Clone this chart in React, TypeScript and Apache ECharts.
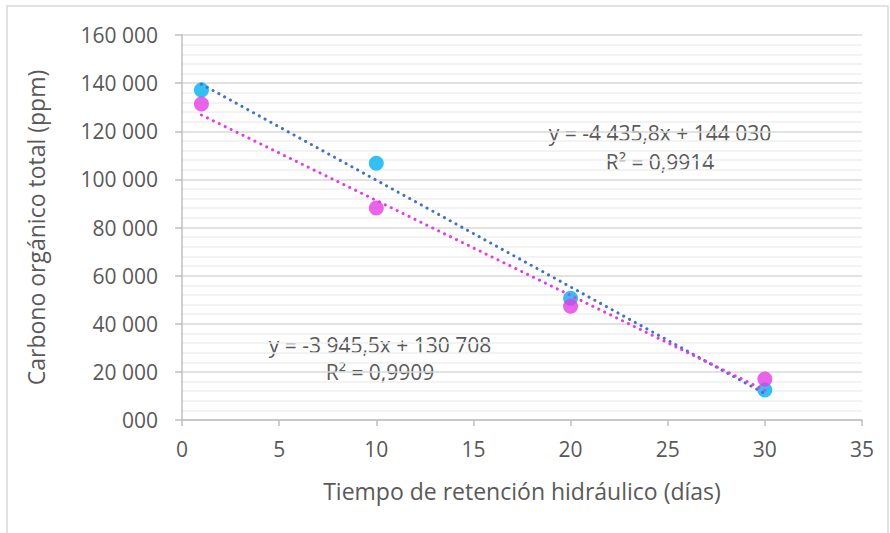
import React, { useEffect, useRef } from "react";
import * as echarts from "echarts";

const xDays = [1, 10, 20, 30];
const blueValues = [137100, 106700, 50600, 12500];
const magentaValues = [131300, 88100, 47300, 17000];
const blueTrend = { slope: -4435.8, intercept: 144030 };
const magentaTrend = { slope: -3945.5, intercept: 130708 };
const trendRange = [1, 30];
const blueEqLines = ["y = -4 435,8x + 144 030", "R² = 0,9914"];
const magentaEqLines = ["y = -3 945,5x + 130 708", "R² = 0,9909"];

const FONT = "Open Sans";
const TXT = "#595959";

function fmtY(v: number): string {
  if (v === 0) return "000";
  const s = Math.round(v).toString();
  return s.replace(/\B(?=(\d{3})+(?!\d))/g, " ");
}

export default function App() {
  const ref = useRef<HTMLDivElement>(null);
  useEffect(() => {
    if (!ref.current) return;
    const chart = echarts.init(ref.current, null, { renderer: "svg" });
    const trendPts = (t: { slope: number; intercept: number }) =>
      trendRange.map((x) => [x, t.slope * x + t.intercept]);
    const eqFont = `21px "${FONT}"`;
    chart.setOption({
      animation: false,
      backgroundColor: "#ffffff",
      grid: { left: 182, right: 28, top: 35, bottom: 113 },
      xAxis: {
        type: "value",
        min: 0,
        max: 35,
        interval: 5,
        name: "Tiempo de retención hidráulico (días)",
        nameLocation: "middle",
        nameGap: 59,
        nameTextStyle: { color: TXT, fontFamily: FONT, fontSize: 23 },
        axisLine: { show: true, lineStyle: { color: "#bfbfbf", width: 1.5 } },
        axisTick: { show: true, length: 6, lineStyle: { color: "#bfbfbf", width: 1.5 } },
        axisLabel: { color: TXT, fontFamily: FONT, fontSize: 21, margin: 18 },
        splitLine: { show: false },
      },
      yAxis: {
        type: "value",
        min: 0,
        max: 160000,
        interval: 20000,
        name: "Carbono orgánico total (ppm)",
        nameLocation: "middle",
        nameGap: 135,
        nameTextStyle: { color: TXT, fontFamily: FONT, fontSize: 23 },
        axisLine: { show: true, lineStyle: { color: "#bfbfbf", width: 1.5 } },
        axisTick: { show: true, length: 7, lineStyle: { color: "#bfbfbf", width: 1.5 } },
        axisLabel: { color: TXT, fontFamily: FONT, fontSize: 21, margin: 24, formatter: fmtY },
        splitLine: { show: true, lineStyle: { color: "#d9d9d9", width: 1.5 } },
        minorTick: { show: false, splitNumber: 5 },
        minorSplitLine: { show: true, lineStyle: { color: "#efefef", width: 1.5 } },
      },
      series: [
        {
          type: "scatter",
          data: xDays.map((x, i) => [x, blueValues[i]]),
          symbolSize: 15,
          itemStyle: { color: "#00b0f0" },
          z: 2,
        },
        {
          type: "scatter",
          data: xDays.map((x, i) => [x, magentaValues[i]]),
          symbolSize: 15,
          itemStyle: { color: "#e43de4" },
          z: 2,
        },
        {
          type: "line",
          data: trendPts(blueTrend),
          showSymbol: false,
          symbol: "none",
          lineStyle: { color: "#4472c4", width: 3, type: [0.1, 6.5], cap: "round" },
          z: 3,
        },
        {
          type: "line",
          data: trendPts(magentaTrend),
          showSymbol: false,
          symbol: "none",
          lineStyle: { color: "#e43de4", width: 3, type: [0.1, 6.5], cap: "round" },
          z: 3,
        },
      ],
      graphic: [
        {
          type: "rect",
          shape: { x: 7, y: 6, width: 881, height: 560 },
          style: { fill: "none", stroke: "#d9d9d9", lineWidth: 1.5 },
          silent: true,
          z: -10,
        },
        {
          type: "text",
          x: 660,
          y: 133,
          style: { text: blueEqLines[0], fill: TXT, font: eqFont, align: "center", verticalAlign: "middle" },
        },
        {
          type: "text",
          x: 660,
          y: 162,
          style: { text: blueEqLines[1], fill: TXT, font: eqFont, align: "center", verticalAlign: "middle" },
        },
        {
          type: "text",
          x: 380,
          y: 345,
          style: { text: magentaEqLines[0], fill: TXT, font: eqFont, align: "center", verticalAlign: "middle" },
        },
        {
          type: "text",
          x: 380,
          y: 372,
          style: { text: magentaEqLines[1], fill: TXT, font: eqFont, align: "center", verticalAlign: "middle" },
        },
      ],
    });
    return () => chart.dispose();
  }, []);
  return <div ref={ref} style={{ position: "fixed", left: 0, top: 0, width: 890, height: 533 }} />;
}
